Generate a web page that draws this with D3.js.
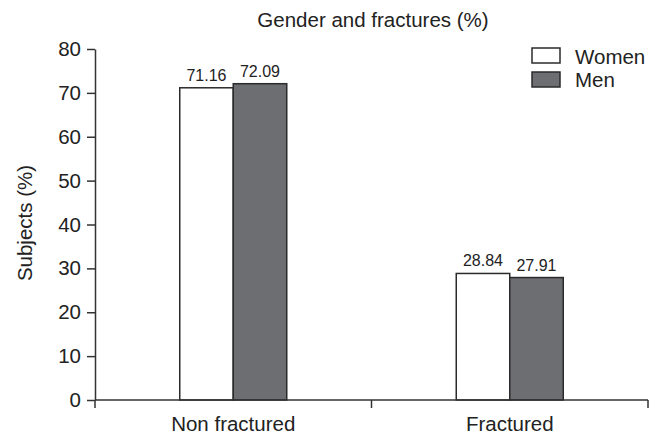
<!DOCTYPE html>
<html><head><meta charset="utf-8">
<script src="https://cdn.jsdelivr.net/npm/d3@7"></script>
<style>body{margin:0;background:#fff}svg{display:block;font-family:"Liberation Sans",Arial,sans-serif}</style>
</head><body>
<svg id="c" width="662" height="436"></svg>
<script>
const categories = ["Non fractured", "Fractured"];
const seriesNames = ["Women", "Men"];
const women = [71.16, 28.84];
const men = [72.09, 27.91];
const yTicks = [0, 10, 20, 30, 40, 50, 60, 70, 80];
const colors = ["#ffffff", "#6d6e71"];

const FONT = "Liberation Sans, Arial, sans-serif";
const svg = d3.select("#c");
const x0 = 95, x1 = 648, yBottom = 400, yTop = 49;
const x = d3.scaleBand().domain(categories).range([x0, x1]).padding(0);
const y = d3.scaleLinear().domain([0, 80]).range([yBottom, yTop]);
const groupW = 107;
const sub = d3.scaleBand().domain(seriesNames).range([0, groupW]);
const barOffset = (x.bandwidth() - groupW) / 2;
const data = [women, men];

// bars
seriesNames.forEach((s, si) => {
  svg.append("g").selectAll("rect").data(categories).join("rect")
    .attr("x", c => x(c) + barOffset + sub(s))
    .attr("y", (c, i) => y(data[si][i]))
    .attr("width", sub.bandwidth())
    .attr("height", (c, i) => y(0) - y(data[si][i]))
    .attr("fill", colors[si]).attr("stroke", "#2b2b2b").attr("stroke-width", 1.5);
  svg.append("g").selectAll("text").data(categories).join("text")
    .attr("x", c => x(c) + barOffset + sub(s) + sub.bandwidth() / 2)
    .attr("y", (c, i) => y(data[si][i]) - 7)
    .attr("text-anchor", "middle").attr("font-size", 16).attr("fill", "#222")
    .text((c, i) => data[si][i].toFixed(2));
});

// y axis
const ya = svg.append("g").attr("transform", `translate(${x0},0)`)
  .call(d3.axisLeft(y).tickValues(yTicks).tickSize(8).tickPadding(6).tickSizeOuter(0));
ya.selectAll("text").attr("font-size", 20.5).attr("fill", "#222").attr("font-family", FONT);
ya.selectAll("line,path").attr("stroke", "#333").attr("stroke-width", 1.5);

// x axis
const xa = svg.append("g");
xa.append("line").attr("x1", x0).attr("x2", x1).attr("y1", yBottom).attr("y2", yBottom)
  .attr("stroke", "#333").attr("stroke-width", 1.5);
const bounds = categories.map(c => x(c)).concat([x1]);
xa.selectAll("line.t").data(bounds).join("line").attr("class", "t")
  .attr("x1", d => d).attr("x2", d => d).attr("y1", yBottom).attr("y2", yBottom + 8)
  .attr("stroke", "#333").attr("stroke-width", 1.5);
xa.selectAll("text").data(categories).join("text")
  .attr("x", c => x(c) + x.bandwidth() / 2).attr("y", 431)
  .attr("text-anchor", "middle").attr("font-size", 20.5).attr("fill", "#222").text(c => c);

// title
svg.append("text").attr("x", 373).attr("y", 27).attr("text-anchor", "middle")
  .attr("font-size", 20.5).attr("fill", "#222").text("Gender and fractures (%)");
// y title
svg.append("text").attr("transform", "translate(32,223) rotate(-90)").attr("text-anchor", "middle")
  .attr("font-size", 20.5).attr("fill", "#222").text("Subjects (%)");

// legend
seriesNames.forEach((s, i) => {
  svg.append("rect").attr("x", 532).attr("y", 48 + i * 24).attr("width", 28).attr("height", 15)
    .attr("fill", colors[i]).attr("stroke", "#2b2b2b").attr("stroke-width", 1.5);
  svg.append("text").attr("x", 575).attr("y", 64 + i * 23).attr("font-size", 20.5).attr("fill", "#222").text(s);
});
</script>
</body></html>
